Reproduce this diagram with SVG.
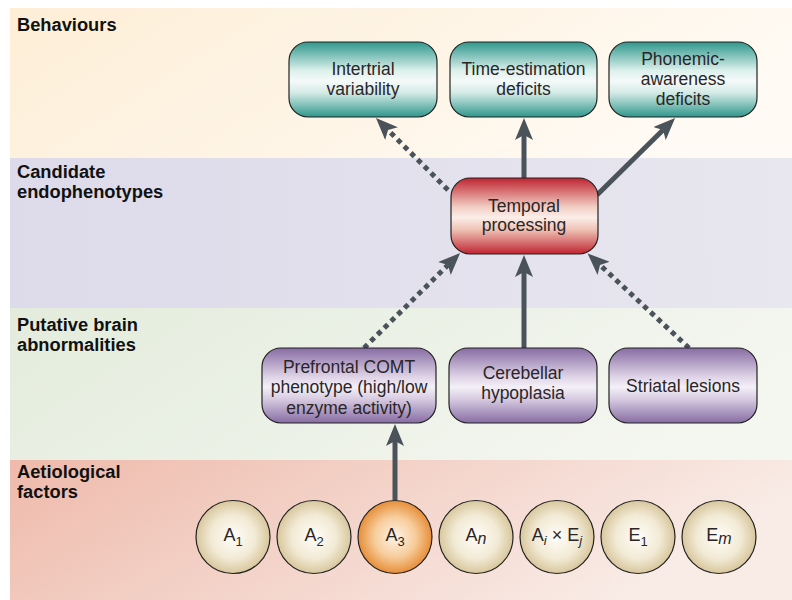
<svg xmlns="http://www.w3.org/2000/svg" width="792" height="600" viewBox="0 0 792 600">
<defs>
<linearGradient id="gBeh" x1="0" y1="0" x2="1" y2="0.3"><stop offset="0" stop-color="#fdeed6"/><stop offset="1" stop-color="#fffaf3"/></linearGradient>
<linearGradient id="gCand" x1="0" y1="0" x2="1" y2="0"><stop offset="0" stop-color="#dddaea"/><stop offset="1" stop-color="#e8e7ef"/></linearGradient>
<linearGradient id="gPut" x1="0" y1="0" x2="1" y2="0.3"><stop offset="0" stop-color="#e3ecdc"/><stop offset="1" stop-color="#f4f6f0"/></linearGradient>
<linearGradient id="gAet" x1="0" y1="0" x2="1" y2="0.3"><stop offset="0" stop-color="#eebaab"/><stop offset="1" stop-color="#f9ece7"/></linearGradient>
<linearGradient id="gTeal" x1="0" y1="0" x2="0" y2="1"><stop offset="0" stop-color="#2f978c"/><stop offset="0.38" stop-color="#dcf0ec"/><stop offset="0.52" stop-color="#f5faf9"/><stop offset="0.68" stop-color="#d3eae5"/><stop offset="1" stop-color="#2f978c"/></linearGradient>
<linearGradient id="gRed" x1="0" y1="0" x2="0" y2="1"><stop offset="0" stop-color="#bf2430"/><stop offset="0.38" stop-color="#f2cdc3"/><stop offset="0.52" stop-color="#fbeee9"/><stop offset="0.68" stop-color="#efc2b5"/><stop offset="1" stop-color="#bf2430"/></linearGradient>
<linearGradient id="gPur" x1="0" y1="0" x2="0" y2="1"><stop offset="0" stop-color="#876ca3"/><stop offset="0.38" stop-color="#ddd2e6"/><stop offset="0.52" stop-color="#f4f0f7"/><stop offset="0.68" stop-color="#d7cbe1"/><stop offset="1" stop-color="#876ca3"/></linearGradient>
<radialGradient id="gBeige" cx="0.5" cy="0.5" r="0.5"><stop offset="0" stop-color="#fffdf8"/><stop offset="0.6" stop-color="#f2ead5"/><stop offset="1" stop-color="#d8c79d"/></radialGradient>
<radialGradient id="gOrange" cx="0.5" cy="0.5" r="0.5"><stop offset="0" stop-color="#fdf3e6"/><stop offset="0.55" stop-color="#f7cd9c"/><stop offset="1" stop-color="#e68e38"/></radialGradient>
<marker id="arr" viewBox="0 0 22 18" refX="5" refY="9" markerWidth="22" markerHeight="18" markerUnits="userSpaceOnUse" orient="auto">
<path d="M22,9 L0,0 L5,9 L0,18 Z" fill="#4a525a"/>
</marker>
<style>
.band-label{font-family:"Liberation Sans",Arial,sans-serif;font-weight:bold;font-size:18.3px;fill:#111}
.node rect{stroke:#222;stroke-width:1.2}
.t{font-family:"Liberation Sans",Arial,sans-serif;font-size:17.5px;fill:#2a2627;text-anchor:middle}
.c{stroke:#222;stroke-width:1.2}
.ct{font-family:"Liberation Sans",Arial,sans-serif;font-size:18px;fill:#2a2627;text-anchor:middle}
.solid{stroke:#4a525a;stroke-width:5;fill:none;marker-end:url(#arr)}
.dot{stroke:#4a525a;stroke-width:5;fill:none;stroke-dasharray:5 4.5;marker-end:url(#arr)}
.sub{font-size:13px}
</style>
</defs>

<g id="bands">
<rect x="10" y="8" width="782" height="150" fill="url(#gBeh)"/>
<rect x="10" y="158" width="782" height="150" fill="url(#gCand)"/>
<rect x="10" y="308" width="782" height="152" fill="url(#gPut)"/>
<rect x="10" y="460" width="782" height="140" fill="url(#gAet)"/>
<text class="band-label" x="17" y="31">Behaviours</text>
<text class="band-label" x="17" y="178">Candidate</text>
<text class="band-label" x="17" y="198">endophenotypes</text>
<text class="band-label" x="17" y="331">Putative brain</text>
<text class="band-label" x="17" y="351">abnormalities</text>
<text class="band-label" x="17" y="478">Aetiological</text>
<text class="band-label" x="17" y="498">factors</text>
</g>

<g id="connectors">
<line class="dot" x1="448" y1="190" x2="388" y2="130"/>
<line class="solid" x1="524" y1="178" x2="524" y2="135"/>
<line class="solid" x1="597" y1="195" x2="663" y2="130"/>
<line class="dot" x1="364" y1="348" x2="448" y2="265"/>
<line class="solid" x1="524" y1="348" x2="524" y2="272"/>
<line class="dot" x1="689" y1="348" x2="600" y2="265"/>
<line class="solid" x1="395" y1="500" x2="395" y2="441"/>
</g>

<g id="intertrial" class="node">
<rect x="289" y="42" width="148" height="75" rx="19" fill="url(#gTeal)"/>
<text class="t" x="363" y="75">Intertrial</text>
<text class="t" x="363" y="95">variability</text>
</g>
<g id="time-estimation" class="node">
<rect x="450" y="42" width="147" height="75" rx="19" fill="url(#gTeal)"/>
<text class="t" x="523.5" y="75">Time-estimation</text>
<text class="t" x="523.5" y="95">deficits</text>
</g>
<g id="phonemic" class="node">
<rect x="609" y="42" width="148" height="75" rx="19" fill="url(#gTeal)"/>
<text class="t" x="683" y="65">Phonemic-</text>
<text class="t" x="683" y="85">awareness</text>
<text class="t" x="683" y="105">deficits</text>
</g>

<g id="temporal" class="node">
<rect x="451" y="178" width="147" height="76" rx="19" fill="url(#gRed)"/>
<text class="t" x="524" y="212">Temporal</text>
<text class="t" x="524" y="231">processing</text>
</g>

<g id="prefrontal" class="node">
<rect x="262" y="348" width="174" height="75" rx="19" fill="url(#gPur)"/>
<text class="t" x="349" y="373">Prefrontal COMT</text>
<text class="t" x="349" y="393">phenotype (high/low</text>
<text class="t" x="349" y="414">enzyme activity)</text>
</g>
<g id="cerebellar" class="node">
<rect x="449" y="348" width="148" height="75" rx="19" fill="url(#gPur)"/>
<text class="t" x="523" y="379">Cerebellar</text>
<text class="t" x="523" y="399">hypoplasia</text>
</g>
<g id="striatal" class="node">
<rect x="609" y="348" width="148" height="75" rx="19" fill="url(#gPur)"/>
<text class="t" x="683" y="392">Striatal lesions</text>
</g>

<g id="a1"><ellipse class="c" cx="233" cy="537" rx="37" ry="36.5" fill="url(#gBeige)"/><text class="ct" x="233" y="541">A<tspan class="sub" dy="5">1</tspan></text></g>
<g id="a2"><ellipse class="c" cx="314" cy="537" rx="37" ry="36.5" fill="url(#gBeige)"/><text class="ct" x="314" y="541">A<tspan class="sub" dy="5">2</tspan></text></g>
<g id="a3"><ellipse class="c" cx="395" cy="537" rx="37" ry="36.5" fill="url(#gOrange)"/><text class="ct" x="395" y="541">A<tspan class="sub" dy="5">3</tspan></text></g>
<g id="an"><ellipse class="c" cx="476" cy="537" rx="37" ry="36.5" fill="url(#gBeige)"/><text class="ct" x="476" y="541">A<tspan dy="3" font-style="italic" font-size="16px">n</tspan></text></g>
<g id="aiej"><ellipse class="c" cx="557" cy="537" rx="37" ry="36.5" fill="url(#gBeige)"/><text class="ct" x="557" y="541">A<tspan class="sub" dy="4" font-style="italic">i</tspan><tspan dy="-4"> × E</tspan><tspan class="sub" dy="4" font-style="italic">j</tspan></text></g>
<g id="e1"><ellipse class="c" cx="638" cy="537" rx="37" ry="36.5" fill="url(#gBeige)"/><text class="ct" x="638" y="541">E<tspan class="sub" dy="5">1</tspan></text></g>
<g id="em"><ellipse class="c" cx="719" cy="537" rx="37" ry="36.5" fill="url(#gBeige)"/><text class="ct" x="719" y="541">E<tspan dy="3" font-style="italic" font-size="16px">m</tspan></text></g>
</svg>
